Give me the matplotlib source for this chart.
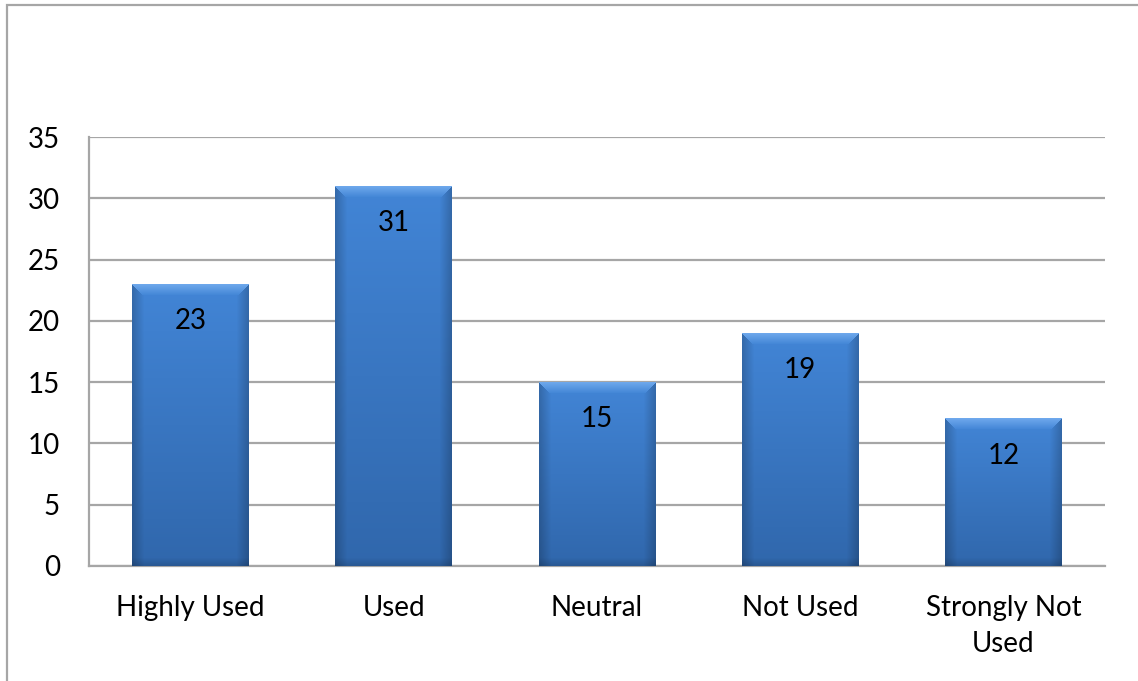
import numpy as np
import matplotlib
matplotlib.use("Agg")
import matplotlib.pyplot as plt
from matplotlib.patches import Rectangle

categories = ["Highly Used", "Used", "Neutral", "Not Used", "Strongly Not\nUsed"]
counts = [23, 31, 15, 19, 12]
y_ticks = [0, 5, 10, 15, 20, 25, 30, 35]

plt.rcParams["font.family"] = ["Lato", "DejaVu Sans"]

fig = plt.figure(figsize=(11.38, 6.81), dpi=100)
ax = fig.add_axes([89 / 1138, 115 / 681, (1105 - 89) / 1138, (566 - 137) / 681])

# outer chart frame (only left and top edges fall inside the picture)
fig.patches.append(Rectangle((7 / 1138, -0.05), 1.2, 1 - 5 / 681 + 0.05,
                             transform=fig.transFigure, fill=False,
                             edgecolor="#a6a6a6", lw=1.6, zorder=0))

x = np.arange(len(categories))
width = 0.575
bars = ax.bar(x, counts, width=width, color="#3c7bc8", zorder=3)

ax.set_xlim(-0.5, len(categories) - 0.5)
ax.set_ylim(0, 35)

# pixel scale of the axes, used to size the bevel shading
px_per_unit = (566 - 137) / 35.0
bar_px = int(round(width * (1105 - 89) / len(categories)))

base_top = np.array([66, 133, 214]) / 255.0
base_bot = np.array([48, 103, 172]) / 255.0
bevel_top = np.array([110, 168, 236]) / 255.0

for b, v in zip(bars, counts):
    h_px = int(round(v * px_per_unit))
    w_px = bar_px
    rows = np.linspace(0, 1, h_px)[:, None]
    cols = np.linspace(0, 1, w_px)[None, :]
    body = base_top[None, None, :] * (1 - rows[..., None]) + base_bot[None, None, :] * rows[..., None]
    # darken toward the left/right edges
    edge = np.minimum(cols, 1 - cols) * w_px
    shade = 0.80 + 0.20 * np.clip(edge / 12.0, 0, 1)
    img = body * shade[..., None]
    # darker band at the bottom
    rpx = np.arange(h_px)[:, None]
    bottom_band = np.clip((h_px - rpx) / 9.0, 0, 1)
    img = img * (0.84 + 0.16 * bottom_band)[..., None]
    # light bevel across the top, sloped at the corners
    cpx = np.arange(w_px)[None, :]
    bevel = (rpx < 11) & (rpx <= cpx) & (rpx <= (w_px - 1 - cpx))
    t = np.clip(rpx / 11.0, 0, 1)
    bevel_img = bevel_top[None, None, :] * (1 - t[..., None]) + base_top[None, None, :] * t[..., None]
    bevel_img = np.broadcast_to(bevel_img, img.shape)
    img = np.where(bevel[..., None], bevel_img, img)
    img = np.clip(img, 0, 1)
    x0 = b.get_x()
    ax.imshow(img, extent=(x0, x0 + width, 0, v), aspect="auto",
              origin="upper", zorder=4, interpolation="bilinear")
    ax.text(b.get_x() + width / 2, v - 3.0, str(v), ha="center", va="center",
            fontsize=20, color="black", zorder=5)

ax.set_xticks(x)
ax.set_xticklabels(categories, fontsize=20, linespacing=1.45)
ax.set_yticks(y_ticks)
ax.set_yticklabels([str(t) for t in y_ticks], fontsize=20)
ax.tick_params(axis="both", length=0)
ax.tick_params(axis="y", pad=21)
ax.tick_params(axis="x", pad=21)

ax.grid(axis="y", color="#a6a6a6", lw=1.6, zorder=1)
ax.set_axisbelow(True)
ax.spines["right"].set_visible(False)
ax.spines["top"].set_visible(False)
for side in ["left", "bottom"]:
    ax.spines[side].set_color("#a6a6a6")
    ax.spines[side].set_linewidth(1.6)

fig.savefig("out.png", dpi=100)
